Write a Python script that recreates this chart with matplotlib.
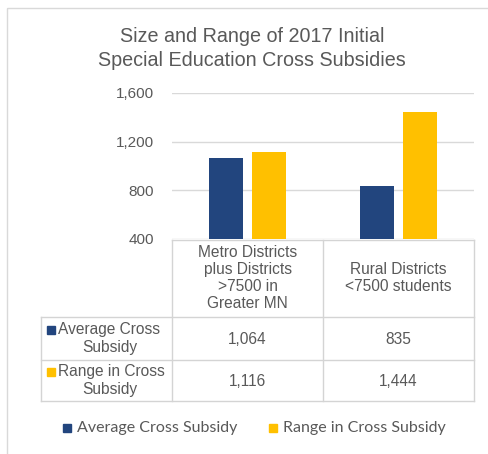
import matplotlib.pyplot as plt
from matplotlib.patches import Rectangle

# data
categories = ["Metro Districts\nplus Districts\n>7500 in\nGreater MN", "Rural Districts\n<7500 students"]
series_names = ["Average Cross Subsidy", "Range in Cross Subsidy"]
row_labels = ["Average Cross\nSubsidy", "Range in Cross\nSubsidy"]
avg_values = [1064, 835]
range_values = [1116, 1444]
yticks = [400, 800, 1200, 1600]

navy = "#22457E"
gold = "#FFC000"
txt = "#595959"
grid = "#D9D9D9"

W, H = 489, 454
fig = plt.figure(figsize=(W / 100, H / 100), dpi=100)
plt.rcParams['font.family'] = ['Liberation Sans', 'DejaVu Sans']

# overlay in pixel coords
ov = fig.add_axes([0, 0, 1, 1])
ov.set_xlim(0, W)
ov.set_ylim(H, 0)
ov.axis('off')
ov.add_patch(Rectangle((7, 8), W, H, fill=False, edgecolor="#D9D9D9", lw=1))

# bar axes
L, R, T, B = 172, 474, 93, 239
ax = fig.add_axes([L / W, 1 - B / H, (R - L) / W, (B - T) / H])
ax.set_xlim(-0.5, 1.5)
ax.set_ylim(400, 1600)
x = range(len(categories))
off, bw = 0.143, 0.22
ax.bar([i - off for i in x], avg_values, bw, color=navy, zorder=3)
ax.bar([i + off for i in x], range_values, bw, color=gold, zorder=3)
ax.set_yticks(yticks)
ax.set_yticklabels(["{:,}".format(v) for v in yticks], color=txt, fontsize=11)
ax.tick_params(axis='y', length=0, pad=13)
ax.set_xticks([])
for s in ax.spines.values():
    s.set_visible(False)
ax.yaxis.grid(True, color=grid, lw=1, zorder=0)
ax.set_axisbelow(True)

# title
ov.text(252, 36, "Size and Range of 2017 Initial", ha='center', va='center', fontsize=14.2, color=txt)
ov.text(252, 61, "Special Education Cross Subsidies", ha='center', va='center', fontsize=14.2, color=txt)

# data table
colx = [172, 323, 474]
rows_y = [240, 317, 360, 401]
lc = "#D4D4D4"
ov.plot([172, 474], [240, 240], color=lc, lw=1)
for yy in rows_y[1:]:
    ov.plot([41, 474], [yy, yy], color=lc, lw=1)
ov.plot([41, 41], [317, 401], color=lc, lw=1)
for xx in colx:
    ov.plot([xx, xx], [240, 401], color=lc, lw=1)

for j, c in enumerate(categories):
    cx = (colx[j] + colx[j + 1]) / 2
    ov.text(cx, 278, c, ha='center', va='center', fontsize=11.2, color=txt, linespacing=1.15)

table_vals = [avg_values, range_values]
colors = [navy, gold]
for r in range(2):
    cy = (rows_y[r + 1] + rows_y[r + 2]) / 2
    first, second = row_labels[r].split("\n")
    ov.add_patch(Rectangle((47, cy - 13), 8, 8, color=colors[r]))
    ov.text(58, cy - 9, first, ha='left', va='center', fontsize=11.2, color=txt)
    ov.text(110, cy + 9, second, ha='center', va='center', fontsize=11.2, color=txt)
    for j in range(2):
        cx = (colx[j] + colx[j + 1]) / 2
        ov.text(cx, cy + 1, "{:,}".format(table_vals[r][j]), ha='center', va='center',
                fontsize=11.2, color=txt)

# legend
lx = [63, 269]
for k in range(2):
    ov.add_patch(Rectangle((lx[k], 424), 8, 8, color=colors[k]))
    ov.text(lx[k] + 14, 428, series_names[k], ha='left', va='center', fontsize=11.5,
            color=txt, family=['Lato', 'DejaVu Sans'])

fig.savefig("out.png", dpi=100)
